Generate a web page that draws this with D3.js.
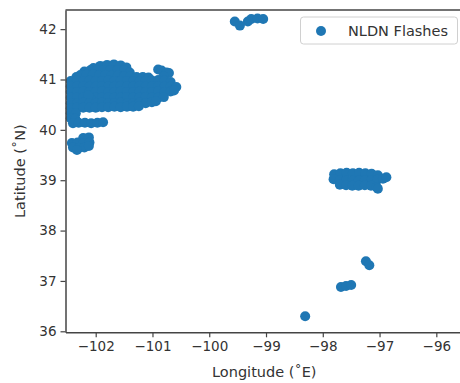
<!DOCTYPE html>
<html><head><meta charset="utf-8">
<script src="https://cdn.jsdelivr.net/npm/d3@7"></script>
<style>html,body{margin:0;padding:0;background:#fff}svg{display:block}</style>
</head><body><svg id="c" width="460" height="383"></svg>
<script>
const xTicks = [-102, -101, -100, -99, -98, -97, -96];
const yTicks = [36, 37, 38, 39, 40, 41, 42];
const xLabel = "Longitude (\u02DAE)";
const yLabel = "Latitude (\u02DAN)";
const seriesName = "NLDN Flashes";

// [longitude, latitude] of flashes, cluster by cluster
const mainCluster = [
  [-102.04,41.23],[-101.92,41.27],[-101.80,41.29],[-101.68,41.30],[-101.56,41.28],[-101.46,41.24],
  [-102.20,41.16],[-102.09,41.19],[-101.98,41.19],[-101.86,41.19],[-101.74,41.19],[-101.62,41.19],[-101.50,41.18],[-101.40,41.14],
  [-100.90,41.20],[-100.84,41.18],[-100.75,41.14],[-100.71,41.13],
  [-102.34,41.05],[-102.27,41.09],[-102.16,41.10],[-102.05,41.10],[-101.94,41.08],[-101.83,41.09],[-101.72,41.08],[-101.61,41.08],
  [-101.50,41.07],[-101.39,41.06],[-101.28,41.05],[-101.17,41.05],[-101.07,41.04],[-100.80,41.06],
  [-102.44,40.97],[-102.33,40.98],[-102.22,40.97],[-102.11,40.98],[-102.00,40.97],[-101.89,40.97],[-101.78,40.98],[-101.67,40.97],
  [-101.56,40.97],[-101.45,40.97],[-101.34,40.97],[-101.23,40.96],[-101.12,40.97],[-101.01,40.98],[-100.90,40.99],[-100.79,40.98],[-100.68,40.95],
  [-102.44,40.86],[-102.33,40.86],[-102.22,40.87],[-102.11,40.86],[-102.00,40.86],[-101.89,40.87],[-101.78,40.86],[-101.67,40.86],
  [-101.56,40.87],[-101.45,40.86],[-101.34,40.86],[-101.23,40.87],[-101.12,40.86],[-101.01,40.86],[-100.90,40.87],[-100.79,40.86],[-100.68,40.86],[-100.58,40.85],
  [-102.44,40.75],[-102.33,40.75],[-102.22,40.76],[-102.11,40.75],[-102.00,40.75],[-101.89,40.76],[-101.78,40.75],[-101.67,40.75],
  [-101.56,40.76],[-101.45,40.75],[-101.34,40.75],[-101.23,40.76],[-101.12,40.75],[-101.01,40.75],[-100.90,40.76],[-100.79,40.75],[-100.68,40.76],[-100.62,40.78],
  [-102.44,40.64],[-102.33,40.64],[-102.22,40.65],[-102.00,40.64],[-101.89,40.64],[-101.78,40.65],[-101.67,40.64],
  [-101.56,40.64],[-101.45,40.65],[-101.34,40.64],[-101.23,40.64],[-101.12,40.65],[-101.01,40.64],[-100.90,40.64],[-100.80,40.65],
  [-102.08,40.60],[-102.13,40.68],
  [-102.44,40.53],[-102.33,40.53],[-102.22,40.54],[-102.11,40.53],[-102.00,40.53],[-101.89,40.54],[-101.78,40.53],[-101.67,40.53],
  [-101.56,40.54],[-101.45,40.53],[-101.34,40.53],[-101.23,40.54],[-101.12,40.53],[-101.01,40.55],[-100.94,40.57],
  [-102.44,40.43],[-102.33,40.44],[-102.22,40.44],[-102.11,40.44],[-102.00,40.44],[-101.89,40.45],[-101.78,40.45],[-101.67,40.46],
  [-101.56,40.45],[-101.45,40.46],[-101.34,40.46],[-101.24,40.47],
  [-102.44,40.33],[-102.35,40.33],[-102.44,40.23],[-102.36,40.22],
  [-102.40,40.13],[-102.30,40.14],[-102.19,40.14],[-102.08,40.13],[-101.97,40.14],[-101.87,40.15]
];
const southwestCluster = [
  [-102.22,39.84],[-102.12,39.85],[-102.42,39.74],[-102.32,39.75],[-102.22,39.74],[-102.11,39.75],
  [-102.40,39.65],[-102.30,39.64],[-102.20,39.65],[-102.12,39.68],[-102.33,39.60]
];
const northCluster = [
  [-99.55,42.15],[-99.46,42.07],[-99.32,42.15],[-99.26,42.20],[-99.15,42.21],[-99.05,42.20]
];
const eastCluster = [
  [-97.80,39.12],[-97.69,39.14],[-97.58,39.15],[-97.47,39.14],[-97.36,39.15],[-97.25,39.14],[-97.14,39.13],[-97.03,39.10],
  [-97.81,39.02],[-97.70,39.00],[-97.59,38.99],[-97.48,38.99],[-97.37,38.99],[-97.26,39.00],[-97.15,39.00],[-97.04,39.01],[-96.94,39.03],[-96.88,39.06],
  [-97.70,38.91],[-97.59,38.90],[-97.48,38.89],[-97.37,38.89],[-97.26,38.90],[-97.15,38.89],[-97.05,38.86],[-97.03,38.83]
];
const southCluster = [
  [-97.24,37.39],[-97.18,37.31],[-97.68,36.88],[-97.59,36.90],[-97.50,36.92],[-98.31,36.30]
];

const xDomain = [-102.532, -95.53];
const yDomain = [35.98, 42.38];
const color = "#1f77b4";
const font = "'DejaVu Sans', sans-serif";

const svg = d3.select("#c");
const L = 65.5, R = 463, T = 10, B = 332.3;
const x = d3.scaleLinear().domain(xDomain).range([L, R]);
const y = d3.scaleLinear().domain(yDomain).range([B, T]);
const fmt = d => d < 0 ? "\u2212" + Math.abs(d) : String(d);

const flashes = [].concat(mainCluster, southwestCluster, northCluster, eastCluster, southCluster);
svg.append("g").selectAll("circle").data(flashes).join("circle")
  .attr("cx", d => x(d[0])).attr("cy", d => y(d[1])).attr("r", 5).attr("fill", color);

const spine = "#444";
const xAxis = d3.axisBottom(x).tickValues(xTicks).tickFormat(fmt).tickSize(5).tickSizeOuter(0).tickPadding(4);
const gx = svg.append("g").attr("transform", `translate(0,${B})`).call(xAxis);
const yAxis = d3.axisLeft(y).tickValues(yTicks).tickFormat(fmt).tickSize(5).tickSizeOuter(0).tickPadding(4);
const gy = svg.append("g").attr("transform", `translate(${L},0)`).call(yAxis);
[gx, gy].forEach(g => {
  g.select(".domain").attr("stroke", spine).attr("stroke-width", 1.5);
  g.selectAll(".tick line").attr("stroke", spine).attr("stroke-width", 1.2);
  g.selectAll(".tick text").attr("fill", "#333").style("font-family", font).style("font-size", "13.5px");
});
svg.append("line").attr("x1", L).attr("x2", R).attr("y1", T).attr("y2", T).attr("stroke", spine).attr("stroke-width", 1.5);
svg.append("line").attr("x1", R).attr("x2", R).attr("y1", T).attr("y2", B).attr("stroke", spine).attr("stroke-width", 1.5);

svg.append("text").attr("x", (L + R) / 2).attr("y", 377).attr("text-anchor", "middle")
  .attr("fill", "#333").style("font-family", font).style("font-size", "14.5px").text(xLabel);
svg.append("text").attr("transform", `translate(24.5,${(T + B) / 2}) rotate(-90)`).attr("text-anchor", "middle")
  .attr("fill", "#333").style("font-family", font).style("font-size", "14.5px").text(yLabel);

const lg = svg.append("g");
lg.append("rect").attr("x", 300.5).attr("y", 17).attr("width", 157).attr("height", 27).attr("rx", 3)
  .attr("fill", "#fff").attr("fill-opacity", 0.8).attr("stroke", "#d0d0d0").attr("stroke-width", 1);
lg.append("circle").attr("cx", 321).attr("cy", 31).attr("r", 5).attr("fill", color);
lg.append("text").attr("x", 348).attr("y", 35.5).attr("fill", "#333")
  .style("font-family", font).style("font-size", "14.5px").text(seriesName);
</script>
</body></html>
